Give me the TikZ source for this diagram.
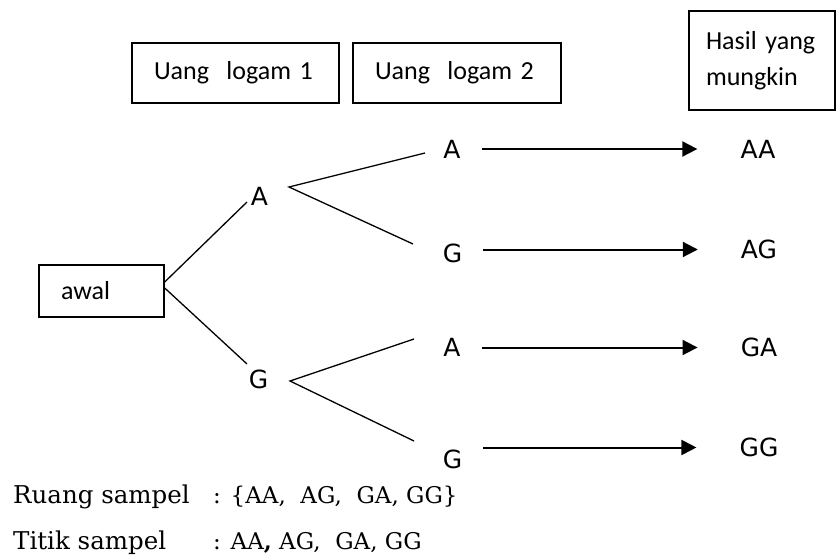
\documentclass[tikz,border=0pt]{standalone}
\usepackage{fontspec}
\newfontfamily\boxfont{Carlito}
\newfontfamily\lblfont{DejaVu Sans}
\newfontfamily\notefont{DejaVu Serif}
\usetikzlibrary{arrows.meta}

\begin{document}
\begin{tikzpicture}[x=1pt, y=-1pt,
      every node/.style={inner sep=0pt},
      headbox/.style={draw=black, line width=1.4pt, align=left, inner xsep=22pt,
                      font=\boxfont\fontsize{26}{36}\selectfont},
      lbl/.style={font=\lblfont\fontsize{25}{30}\selectfont},
      branch/.style={draw=black, line width=1.3pt},
      arr/.style={draw=black, line width=2pt, shorten <=21pt, shorten >=43pt,
                  -{Triangle[length=15pt, width=15pt]}},
      note/.style={anchor=base west, font=\notefont\fontsize{24.5}{30}\selectfont},
      noteset/.style={note, font=\notefont\fontsize{23}{30}\selectfont}]
    \useasboundingbox (0,0) rectangle (838,559);

    % column headers
    \node[headbox, text width=163pt, minimum height=60pt] (koin1) at (235.5,73) {Uang\ \ logam 1};
    \node[headbox, text width=164pt, minimum height=60pt] (koin2) at (457,73) {Uang\ \ logam 2};
    \node[headbox, inner xsep=17pt, text width=112pt, minimum height=99pt] (hasil) at (762,60.5) {Hasil yang\\mungkin};
    \node[headbox, text width=81pt, minimum height=52pt] (awal) at (101.5,291) {awal};

    % first toss
    \node[lbl] (A1) at (259.5,196.5) {A};
    \node[lbl] (G1) at (258.5,379) {G};
    % second toss
    \node[lbl] (A2) at (452,149) {A};
    \node[lbl] (G2) at (452.5,253.5) {G};
    \node[lbl] (A3) at (452,347) {A};
    \node[lbl] (G3) at (452.5,459) {G};
    % outcomes
    \node[lbl] (AA) at (758,149) {AA};
    \node[lbl] (AG) at (759,249.5) {AG};
    \node[lbl] (GA) at (759,347.5) {GA};
    \node[lbl] (GG) at (759,447.5) {GG};

    % fork points and branch ends
    \coordinate (fA) at (289,187);
    \coordinate (fG) at (290,381);
    \coordinate (eA2) at (425,153);
    \coordinate (eG2) at (413,244);
    \coordinate (eA3) at (414,339);
    \coordinate (eG3) at (414,441);

    \draw[branch] ([yshift=9pt]awal.east) -- (247,202);
    \draw[branch] ([yshift=3pt]awal.east) -- (247,364);
    \draw[branch] (eA2) -- (fA) -- (eG2);
    \draw[branch] (eA3) -- (fG) -- (eG3);

    \draw[arr] (A2.east |- AA.west) -- (AA.west);
    \draw[arr] (G2.east |- AG.west) -- (AG.west);
    \draw[arr] (A3.east |- GA.west) -- (GA.west);
    \draw[arr] (G3.east |- GG.west) -- (GG.west);

    % sample space
    \node[note] (ruang) at (13,503) {Ruang sampel};
    \node[noteset] (ruangisi) at (213,503) {: \{AA,\ \ AG,\ \ GA, GG\}};
    \node[note] (titik) at (13,549) {Titik sampel};
    \node[noteset] (titikisi) at (213,549) {: AA{\bfseries ,} AG,\ \ GA, GG};
\end{tikzpicture}
\end{document}
